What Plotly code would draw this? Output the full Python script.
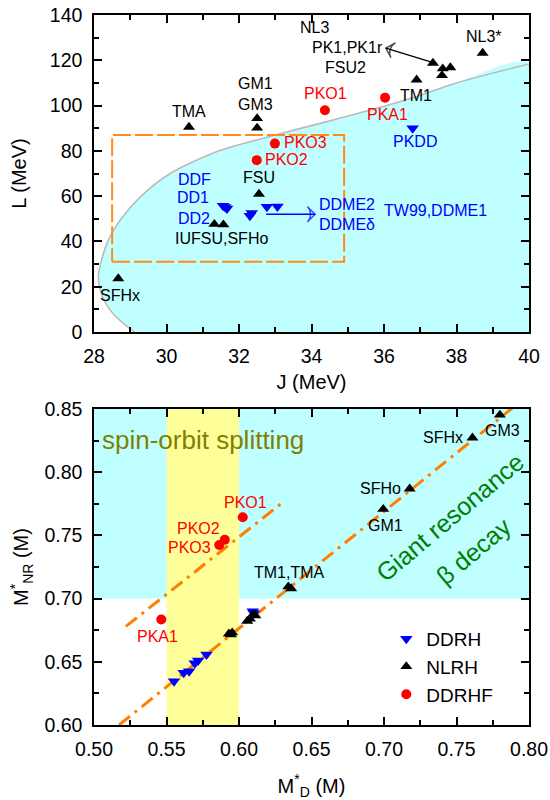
import plotly.graph_objects as go

FONT = "Liberation Sans, Arial, sans-serif"

# ---------------- upper panel: symmetry energy J vs slope L ----------------
# constraint boundary (grey curve); the region to its right is shaded
bound_J = [29.12, 28.72, 28.43, 28.25, 28.15, 28.12, 28.18, 28.38, 28.75, 29.30,
           30.10, 31.45, 33.00, 34.40, 36.00, 36.90, 38.00, 40.00]
bound_L = [0, 5, 10, 15, 20, 25, 30, 40, 50, 60,
           70, 80, 87, 92.8, 99.7, 104.0, 110.0, 118.4]

# non-linear RMF (NLRH)
nlrh_names = ["SFHx", "TMA", "GM1", "GM3", "FSU", "IUFSU", "SFHo", "TM1",
              "NL3", "PK1", "PK1r", "FSU2", "NL3*"]
nlrh_J = [28.67, 30.62, 32.50, 32.50, 32.55, 31.32, 31.57, 36.90,
          37.35, 37.62, 37.83, 37.60, 38.72]
nlrh_L = [23.6, 90.5, 94.3, 90.1, 60.9, 47.6, 47.4, 111.4,
          118.8, 116.3, 116.8, 113.3, 123.2]

# density-dependent RMF (DDRH)
ddrh_names = ["DDF", "DD1", "DD2", "DDME2", "DDMEd", "TW99", "DDME1", "PKDD"]
ddrh_J = [31.56, 31.62, 31.67, 32.30, 32.35, 32.77, 33.06, 36.79]
ddrh_L = [55.8, 55.2, 54.6, 51.3, 52.6, 55.3, 55.4, 90.0]

# density-dependent RHF (DDRHF)
ddrhf_names = ["PKO1", "PKO2", "PKO3", "PKA1"]
ddrhf_J = [34.37, 32.49, 32.99, 36.03]
ddrhf_L = [97.9, 75.9, 83.2, 103.5]

# dashed box (J, L limits)
box_J = [28.5, 34.9]
box_L = [31.0, 87.0]

# text labels of the upper panel
top_text = ["NL3", "PK1,PK1r", "FSU2", "NL3*", "TM1", "GM1", "GM3", "TMA",
            "FSU", "IUFSU,SFHo", "SFHx",
            "PKO1", "PKA1", "PKO3", "PKO2",
            "PKDD", "DDF", "DD1", "DD2", "DDME2", "DDMEδ", "TW99,DDME1"]
top_tx = [34.07, 34.99, 34.94, 38.76, 36.88, 32.45, 32.45, 30.63,
          32.55, 31.52, 28.72,
          34.39, 36.10, 33.84, 33.30,
          36.86, 30.76, 30.73, 30.76, 34.99, 34.99, 37.41]
top_ty = [134.6, 125.7, 116.9, 130.7, 104.6, 109.7, 100.6, 97.5,
          68.1, 41.5, 16.0,
          105.3, 96.2, 83.5, 76.2,
          84.0, 67.5, 59.4, 50.1, 56.4, 47.6, 53.5]
top_tc = ["black"] * 11 + ["red"] * 4 + ["blue"] * 7

# arrows: (tail J, tail L, head J, head L, colour)
arrows = [(37.29, 119.3, 36.05, 125.4, "black"),
          (32.75, 52.0, 34.10, 52.0, "blue")]

# ---------------- lower panel: effective masses ----------------
ddrh_MD = [0.5552, 0.5619, 0.5656, 0.5695, 0.5718, 0.5776, 0.6095, 0.6102]
ddrh_MNR = [0.6346, 0.6413, 0.6425, 0.6489, 0.6510, 0.6558, 0.6900, 0.6885]

nlrh_MD = [0.7610, 0.6360, 0.6995, 0.7799, 0.5930, 0.6057, 0.5953,
           0.6340, 0.6098, 0.6113, 0.6075, 0.7177, 0.5945]
nlrh_MNR = [0.8272, 0.7080, 0.7708, 0.8453, 0.6722, 0.6822, 0.6730,
            0.7094, 0.6874, 0.6866, 0.6840, 0.7869, 0.6715]

ddrhf_MD = [0.6026, 0.5902, 0.5864, 0.5464]
ddrhf_MNR = [0.7644, 0.7466, 0.7424, 0.6835]

# linear trends (dash-dot)
fit_rhf_x = [0.522, 0.630]
fit_rhf_y = [0.678, 0.776]
fit_rh_x = [0.5173, 0.789]
fit_rh_y = [0.600, 0.8513]

# shaded bands
band_cyan_y = [0.70, 0.85]
band_yellow_x = [0.55, 0.60]

bot_text = ["PKO1", "PKO2", "PKO3", "PKA1",
            "TM1,TMA", "SFHo", "GM1", "SFHx", "GM3"]
bot_tx = [0.6045, 0.5718, 0.5658, 0.5440,
          0.6348, 0.6976, 0.7013, 0.7404, 0.7818]
bot_ty = [0.7757, 0.7555, 0.7403, 0.6699,
          0.7209, 0.7869, 0.7581, 0.8272, 0.8330]
bot_tc = ["red"] * 4 + ["black"] * 5

CYAN = "#BFFFFF"
YELLOW = "#FFFF99"
ORANGE = "#FF8000"

fig = go.Figure()

# ---- upper panel traces ----
fig.add_trace(go.Scatter(
    x=bound_J + [40.0], y=bound_L + [0.0], fill="toself", fillcolor=CYAN,
    mode="lines", line=dict(width=0, shape="spline", smoothing=0.8),
    hoverinfo="skip", showlegend=False, xaxis="x", yaxis="y"))
fig.add_trace(go.Scatter(
    x=bound_J, y=bound_L, mode="lines",
    line=dict(color="#BBBBBB", width=1.6, shape="spline", smoothing=0.8),
    hoverinfo="skip", showlegend=False, xaxis="x", yaxis="y"))
fig.add_trace(go.Scatter(
    x=[box_J[0], box_J[1], box_J[1], box_J[0], box_J[0]],
    y=[box_L[0], box_L[0], box_L[1], box_L[1], box_L[0]],
    mode="lines", line=dict(color="#FF8C1A", width=2, dash="18px,4px"),
    hoverinfo="skip", showlegend=False, xaxis="x", yaxis="y"))

# pointer arrows: a line with an open arrow head oriented along the segment
for tj, tl, hj, hl, c in arrows:
    fig.add_trace(go.Scatter(
        x=[tj, hj], y=[tl, hl], mode="lines+markers",
        line=dict(color=c, width=1.3),
        marker=dict(symbol=["circle", "arrow-wide-open"], size=[0, 11],
                    angleref="previous", color=c, line=dict(color=c, width=1.4)),
        hoverinfo="skip", showlegend=False, xaxis="x", yaxis="y"))

fig.add_trace(go.Scatter(
    x=ddrh_J, y=ddrh_L, text=ddrh_names, mode="markers",
    marker=dict(symbol="triangle-down", size=11, color="blue"),
    showlegend=False, xaxis="x", yaxis="y"))
fig.add_trace(go.Scatter(
    x=nlrh_J, y=nlrh_L, text=nlrh_names, mode="markers",
    marker=dict(symbol="triangle-up", size=10.5, color="black"),
    showlegend=False, xaxis="x", yaxis="y"))
fig.add_trace(go.Scatter(
    x=ddrhf_J, y=ddrhf_L, text=ddrhf_names, mode="markers",
    marker=dict(symbol="circle", size=10, color="red"),
    showlegend=False, xaxis="x", yaxis="y"))

# ---- lower panel traces ----
fig.add_trace(go.Scatter(
    x=fit_rhf_x, y=fit_rhf_y, mode="lines",
    line=dict(color=ORANGE, width=3, dash="14px,6px,3px,6px"),
    hoverinfo="skip", showlegend=False, xaxis="x2", yaxis="y2"))
fig.add_trace(go.Scatter(
    x=fit_rh_x, y=fit_rh_y, mode="lines",
    line=dict(color=ORANGE, width=3, dash="14px,6px,3px,6px"),
    hoverinfo="skip", showlegend=False, xaxis="x2", yaxis="y2"))
fig.add_trace(go.Scatter(
    x=ddrh_MD, y=ddrh_MNR, name="DDRH", mode="markers",
    marker=dict(symbol="triangle-down", size=11, color="blue"),
    xaxis="x2", yaxis="y2"))
fig.add_trace(go.Scatter(
    x=nlrh_MD, y=nlrh_MNR, name="NLRH", mode="markers",
    marker=dict(symbol="triangle-up", size=10.5, color="black"),
    xaxis="x2", yaxis="y2"))
fig.add_trace(go.Scatter(
    x=ddrhf_MD, y=ddrhf_MNR, name="DDRHF", mode="markers",
    marker=dict(symbol="circle", size=10, color="red"),
    xaxis="x2", yaxis="y2"))

shapes = [
    dict(type="rect", xref="x2 domain", yref="y2", x0=0, x1=1,
         y0=band_cyan_y[0], y1=band_cyan_y[1], fillcolor=CYAN,
         line=dict(width=0), layer="below"),
    dict(type="rect", xref="x2", yref="y2 domain", x0=band_yellow_x[0],
         x1=band_yellow_x[1], y0=0, y1=1, fillcolor=YELLOW,
         line=dict(width=0), layer="below"),
]

annotations = []
for t, x, y, c in zip(top_text, top_tx, top_ty, top_tc):
    annotations.append(dict(text=t, x=x, y=y, xref="x", yref="y",
                            showarrow=False, font=dict(size=16, color=c, family=FONT)))
for t, x, y, c in zip(bot_text, bot_tx, bot_ty, bot_tc):
    annotations.append(dict(text=t, x=x, y=y, xref="x2", yref="y2",
                            showarrow=False, font=dict(size=16, color=c, family=FONT)))
annotations += [
    dict(text="spin-orbit splitting", x=0.504, y=0.8258, xref="x2", yref="y2",
         xanchor="left", showarrow=False,
         font=dict(size=26, color="#808000", family=FONT)),
    dict(text="Giant resonance", x=0.7455, y=0.7648, xref="x2", yref="y2",
         textangle=-40, showarrow=False,
         font=dict(size=25, color="#008000", family=FONT)),
    dict(text="β decay", x=0.7616, y=0.7380, xref="x2", yref="y2",
         textangle=-40, showarrow=False,
         font=dict(size=25, color="#008000", family=FONT)),
]

axis_common = dict(
    showline=True, linecolor="black", linewidth=1.5, mirror="allticks",
    ticks="inside", ticklen=8, tickwidth=1.5, tickcolor="black",
    showgrid=False, zeroline=False, ticklabelstandoff=6, automargin=False,
    tickfont=dict(size=19.5, color="black", family=FONT),
)
minor_common = dict(ticks="inside", ticklen=5, tickwidth=1.5, tickcolor="black")

fig.update_layout(
    width=550, height=800,
    margin=dict(l=94, r=21, t=15, b=75),
    paper_bgcolor="white", plot_bgcolor="white",
    font=dict(family=FONT, color="black"),
    xaxis=dict(axis_common, domain=[0, 1], anchor="y", range=[28, 40], dtick=2,
               minor=dict(minor_common, dtick=1),
               title=dict(text="J (MeV)", font=dict(size=20), standoff=9)),
    yaxis=dict(axis_common, domain=[0.5535, 1], anchor="x", range=[0, 140], dtick=20,
               minor=dict(minor_common, dtick=10),
               title=dict(text="L (MeV)", font=dict(size=20), standoff=18)),
    xaxis2=dict(axis_common, domain=[0, 1], anchor="y2", range=[0.5, 0.8], dtick=0.05,
                tickformat=".2f", minor=dict(minor_common, dtick=0.025),
                title=dict(text="M<sup>*</sup><sub>D</sub> (M)", font=dict(size=20), standoff=20)),
    yaxis2=dict(axis_common, domain=[0, 0.445], anchor="x2", range=[0.6, 0.85], dtick=0.05,
                tickformat=".2f", minor=dict(minor_common, dtick=0.025),
                title=dict(text="M<sup>*</sup><sub>NR</sub> (M)", font=dict(size=20), standoff=10)),
    shapes=shapes,
    annotations=annotations,
    showlegend=True,
    legend=dict(x=0.672, y=0.148, xanchor="left", yanchor="top",
                bgcolor="rgba(0,0,0,0)", borderwidth=0,
                font=dict(size=19, color="black", family=FONT)),
)

fig.write_html("out.html")
